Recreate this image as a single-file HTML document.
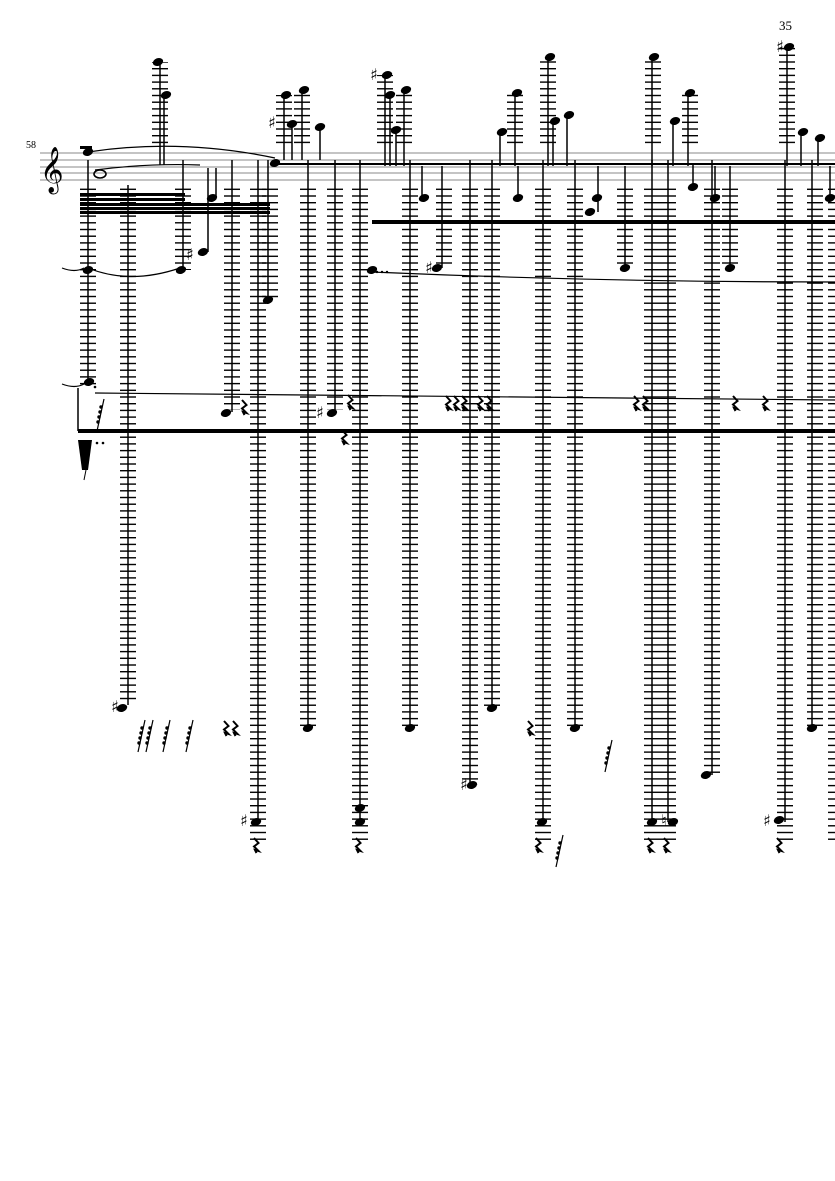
<!DOCTYPE html>
<html><head><style>body{margin:0;background:#fff}svg{display:block}</style></head><body>
<svg width="835" height="1181" viewBox="0 0 835 1181" xmlns="http://www.w3.org/2000/svg" font-family="Liberation Serif, serif">
<defs>
<pattern id="L" x="0" y="1" width="16" height="6.7" patternUnits="userSpaceOnUse"><rect x="0" y="0" width="16" height="1.4" fill="#000"/></pattern>
<g id="n"><ellipse cx="0" cy="0" rx="5.3" ry="3.8" transform="rotate(-20)" fill="#000"/></g>
<g id="r"><path d="M-2,-7 L2.5,-2 L-2,1.5 L2.5,6 L-1,5 L0.5,8" stroke="#000" stroke-width="2" fill="none"/></g>
<g id="d"><line x1="7" y1="-16" x2="0" y2="16" stroke="#000" stroke-width="1.2"/><circle cx="4" cy="-8" r="1.7"/><circle cx="3" cy="-3" r="1.7"/><circle cx="2" cy="2" r="1.7"/><circle cx="1" cy="7" r="1.7"/></g>
</defs>
<text x="779" y="30" font-size="13">35</text>
<text x="26" y="148" font-size="10">58</text>
<g stroke="#888" stroke-width="1"><line x1="40" y1="153" x2="835" y2="153"/><line x1="40" y1="160" x2="835" y2="160"/><line x1="40" y1="167" x2="835" y2="167"/><line x1="40" y1="173" x2="835" y2="173"/><line x1="40" y1="180" x2="835" y2="180"/></g>
<text x="40" y="183" font-size="40" font-family="DejaVu Sans">𝄞</text>
<rect x="80" y="146" width="12" height="3" fill="#000"/>
<ellipse cx="100" cy="174" rx="6" ry="4" fill="none" stroke="#000" stroke-width="1.6"/>
<g fill="url(#L)">
<rect x="80" y="188" width="16" height="200"/><rect x="120" y="188" width="16" height="512"/><rect x="175" y="188" width="16" height="82"/>
<rect x="224" y="188" width="16" height="222"/><rect x="250" y="188" width="16" height="657"/><rect x="262" y="188" width="16" height="112"/>
<rect x="300" y="188" width="16" height="540"/><rect x="327" y="188" width="16" height="222"/><rect x="352" y="188" width="16" height="657"/>
<rect x="402" y="188" width="16" height="540"/><rect x="436" y="188" width="16" height="80"/><rect x="462" y="188" width="16" height="597"/><rect x="484" y="188" width="16" height="520"/>
<rect x="535" y="188" width="16" height="657"/><rect x="567" y="188" width="16" height="540"/><rect x="617" y="188" width="16" height="80"/><rect x="644" y="188" width="16" height="657"/>
<rect x="660" y="188" width="16" height="657"/><rect x="704" y="188" width="16" height="587"/><rect x="722" y="188" width="16" height="80"/><rect x="777" y="188" width="16" height="657"/><rect x="807" y="188" width="16" height="540"/><rect x="828" y="188" width="16" height="657"/>
</g>
<g fill="url(#L)">
<rect x="152" y="62" width="16" height="85"/><rect x="276" y="95" width="16" height="52"/><rect x="294" y="90" width="16" height="57"/>
<rect x="377" y="75" width="16" height="72"/><rect x="396" y="90" width="16" height="57"/>
<rect x="507" y="93" width="16" height="54"/><rect x="540" y="57" width="16" height="90"/><rect x="645" y="57" width="16" height="90"/>
<rect x="682" y="93" width="16" height="54"/><rect x="779" y="45" width="16" height="102"/>
</g>
<g stroke="#000" stroke-width="1.5">
<line x1="88" y1="160" x2="88" y2="385"/><line x1="128" y1="185" x2="128" y2="705"/><line x1="183" y1="160" x2="183" y2="270"/>
<line x1="232" y1="160" x2="232" y2="412"/><line x1="258" y1="160" x2="258" y2="822"/><line x1="268" y1="160" x2="268" y2="300"/>
<line x1="308" y1="160" x2="308" y2="728"/><line x1="335" y1="160" x2="335" y2="412"/><line x1="360" y1="160" x2="360" y2="822"/>
<line x1="410" y1="160" x2="410" y2="728"/><line x1="470" y1="160" x2="470" y2="785"/><line x1="492" y1="160" x2="492" y2="708"/>
<line x1="543" y1="160" x2="543" y2="822"/><line x1="575" y1="160" x2="575" y2="728"/><line x1="652" y1="160" x2="652" y2="822"/>
<line x1="668" y1="160" x2="668" y2="822"/><line x1="712" y1="160" x2="712" y2="775"/><line x1="785" y1="160" x2="785" y2="822"/><line x1="812" y1="160" x2="812" y2="728"/>
<line x1="160" y1="62" x2="160" y2="165"/><line x1="164" y1="95" x2="164" y2="165"/><line x1="284" y1="95" x2="284" y2="160"/><line x1="292" y1="125" x2="292" y2="160"/><line x1="302" y1="90" x2="302" y2="160"/><line x1="320" y1="128" x2="320" y2="160"/>
<line x1="385" y1="75" x2="385" y2="166"/><line x1="390" y1="95" x2="390" y2="166"/><line x1="396" y1="130" x2="396" y2="166"/><line x1="404" y1="90" x2="404" y2="166"/>
<line x1="500" y1="132" x2="500" y2="166"/><line x1="515" y1="93" x2="515" y2="166"/><line x1="548" y1="57" x2="548" y2="166"/><line x1="553" y1="120" x2="553" y2="166"/><line x1="567" y1="115" x2="567" y2="166"/>
<line x1="652" y1="57" x2="652" y2="166"/><line x1="673" y1="120" x2="673" y2="166"/><line x1="688" y1="93" x2="688" y2="166"/>
<line x1="787" y1="45" x2="787" y2="166"/><line x1="801" y1="132" x2="801" y2="166"/><line x1="818" y1="138" x2="818" y2="166"/>
<line x1="422" y1="166" x2="422" y2="198"/><line x1="442" y1="166" x2="442" y2="268"/><line x1="518" y1="166" x2="518" y2="198"/><line x1="598" y1="166" x2="598" y2="212"/><line x1="625" y1="166" x2="625" y2="268"/><line x1="693" y1="165" x2="693" y2="187"/><line x1="715" y1="166" x2="715" y2="198"/><line x1="730" y1="166" x2="730" y2="268"/><line x1="830" y1="166" x2="830" y2="198"/>
<line x1="208" y1="168" x2="208" y2="252"/><line x1="216" y1="168" x2="216" y2="198"/>
</g>
<rect x="275" y="163" width="560" height="2" fill="#000"/>
<rect x="80" y="193" width="105" height="3" fill="#000"/><rect x="80" y="198" width="105" height="3" fill="#000"/>
<rect x="80" y="203" width="190" height="3" fill="#000"/><rect x="80" y="207" width="190" height="3" fill="#000"/><rect x="80" y="211" width="190" height="3" fill="#000"/>
<rect x="372" y="220" width="463" height="4" fill="#000"/>
<rect x="78" y="429" width="757" height="4" fill="#000"/>
<line x1="78" y1="388" x2="78" y2="431" stroke="#000" stroke-width="1.5"/>
<g fill="none" stroke="#000" stroke-width="1.2">
<path d="M88,152 Q180,138 275,158"/><path d="M95,170 Q150,163 200,165"/>
<path d="M88,268 Q130,285 180,268"/><path d="M372,272 Q600,282 835,282"/>
<path d="M95,393 Q450,398 835,400"/>
<path d="M62,268 Q75,273 84,268"/><path d="M62,384 Q75,389 84,384"/>
</g>
<g>
<use href="#n" x="158" y="62"/><use href="#n" x="166" y="95"/><use href="#n" x="88" y="152"/><use href="#n" x="275" y="163"/>
<use href="#n" x="286" y="95"/><use href="#n" x="292" y="124"/><use href="#n" x="304" y="90"/><use href="#n" x="320" y="127"/>
<use href="#n" x="387" y="75"/><use href="#n" x="390" y="95"/><use href="#n" x="396" y="130"/><use href="#n" x="406" y="90"/>
<use href="#n" x="502" y="132"/><use href="#n" x="517" y="93"/><use href="#n" x="550" y="57"/><use href="#n" x="555" y="121"/><use href="#n" x="569" y="115"/>
<use href="#n" x="654" y="57"/><use href="#n" x="675" y="121"/><use href="#n" x="690" y="93"/><use href="#n" x="789" y="47"/><use href="#n" x="803" y="132"/><use href="#n" x="820" y="138"/>
<use href="#n" x="424" y="198"/><use href="#n" x="437" y="268"/><use href="#n" x="518" y="198"/><use href="#n" x="590" y="212"/><use href="#n" x="597" y="198"/><use href="#n" x="625" y="268"/><use href="#n" x="693" y="187"/><use href="#n" x="715" y="198"/><use href="#n" x="730" y="268"/><use href="#n" x="830" y="198"/>
<use href="#n" x="212" y="198"/><use href="#n" x="203" y="252"/><use href="#n" x="88" y="270"/><use href="#n" x="181" y="270"/><use href="#n" x="372" y="270"/><use href="#n" x="268" y="300"/>
<use href="#n" x="89" y="382"/><use href="#n" x="226" y="413"/><use href="#n" x="332" y="413"/>
<use href="#n" x="122" y="708"/><use href="#n" x="308" y="728"/><use href="#n" x="410" y="728"/><use href="#n" x="575" y="728"/><use href="#n" x="812" y="728"/>
<use href="#n" x="492" y="708"/><use href="#n" x="472" y="785"/><use href="#n" x="706" y="775"/>
<use href="#n" x="256" y="822"/><use href="#n" x="360" y="822"/><use href="#n" x="360" y="808"/><use href="#n" x="542" y="822"/><use href="#n" x="652" y="822"/><use href="#n" x="673" y="822"/><use href="#n" x="779" y="820"/>
</g>
<g font-size="16" font-family="DejaVu Sans">
<text x="268" y="128">♯</text><text x="370" y="80">♯</text><text x="776" y="52">♯</text><text x="186" y="260">♯</text><text x="425" y="273">♯</text>
<text x="111" y="712">♯</text><text x="240" y="826">♯</text><text x="316" y="418">♯</text><text x="460" y="790">♯</text><text x="763" y="826">♯</text><text x="661" y="826">♮</text>
</g>
<g>
<use href="#r" x="244" y="407"/><use href="#r" x="350" y="402"/><use href="#r" x="344" y="437"/><use href="#r" x="448" y="403"/><use href="#r" x="456" y="403"/><use href="#r" x="464" y="403"/><use href="#r" x="480" y="403"/><use href="#r" x="489" y="403"/>
<use href="#r" x="636" y="403"/><use href="#r" x="645" y="403"/><use href="#r" x="735" y="403"/><use href="#r" x="765" y="403"/>
<use href="#r" x="226" y="728"/><use href="#r" x="235" y="728"/><use href="#r" x="530" y="728"/>
<use href="#r" x="256" y="845"/><use href="#r" x="358" y="845"/><use href="#r" x="538" y="845"/><use href="#r" x="650" y="845"/><use href="#r" x="666" y="845"/><use href="#r" x="779" y="845"/>
</g>
<g fill="#000">
<use href="#d" x="138" y="736"/><use href="#d" x="146" y="736"/><use href="#d" x="163" y="736"/><use href="#d" x="186" y="736"/>
<use href="#d" x="605" y="756"/><use href="#d" x="556" y="851"/><use href="#d" x="97" y="415"/>
<path d="M78,440 L92,440 L88,470 L82,470Z"/><line x1="86" y1="470" x2="84" y2="480" stroke="#000"/>
<circle cx="97" cy="443" r="1.3"/><circle cx="103" cy="443" r="1.3"/><circle cx="95" cy="387" r="1.3"/>
<circle cx="377" cy="272" r="1.2"/><circle cx="382" cy="272" r="1.2"/><circle cx="387" cy="272" r="1.2"/>
</g>
</svg>
</body></html>
